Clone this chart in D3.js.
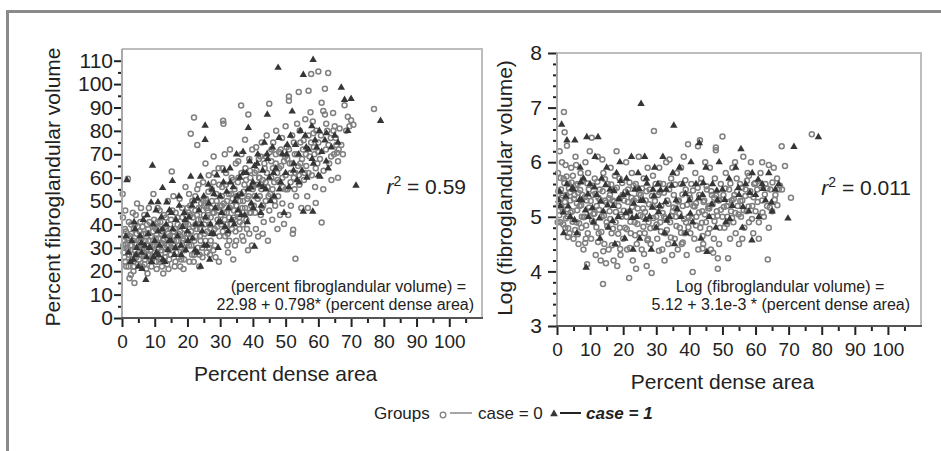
<!DOCTYPE html>
<html>
<head>
<meta charset="utf-8">
<script src="https://cdn.jsdelivr.net/npm/d3@7/dist/d3.min.js"></script>
<style>
body{margin:0;background:#fff;}
svg{display:block;font-family:"Liberation Sans",Arial,Helvetica,sans-serif;}
</style>
</head>
<body>
<svg id="chart" width="941" height="451"></svg>
<script>
// tick values
const xTicks=[0,10,20,30,40,50,60,70,80,90,100];
const xMinor=[5,15,25,35,45,55,65,75,85,95,105];
const leftYTicks=[0,10,20,30,40,50,60,70,80,90,100,110];
const leftYMinor=[5,15,25,35,45,55,65,75,85,95,105];
const rightYTicks=[3,4,5,6,7,8];
const rightYMinor=[3.2,3.4,3.6,3.8,4.2,4.4,4.6,4.8,5.2,5.4,5.6,5.8,6.2,6.4,6.6,6.8,7.2,7.4,7.6,7.8];

// percent dense area vs percent fibroglandular volume, case = 0
const leftCase0=[
[0.5,28],[0.8,33],[1,24],[1.2,37],[1.5,30],[1.8,59.5],[2,22],[2.2,27],[2.5,35],[2.8,40],[3,31],[3.2,25],[3.5,20],[3.8,15],[4,29],[4.2,44],[4.5,36],[4.6,49],[4.8,23],[5,33],[0.3,43],[1.1,31.5],[2.7,18.5],[3.6,38],[4.4,26],[0.2,53],
[5.3,27],[5.6,41],[5.9,31],[6.2,22],[6.5,36],[6.8,44],[7,25],[7.2,33],[7.5,29],[7.8,19],[8,38],[8.2,47],[8.5,27],[8.8,35],[9,22],[9.3,31],[9.6,53],[9.8,42],[6,34],[7.6,40],[8.9,24.5],[5.5,30],[6.7,28],[9.5,37],
[10,28],[10.3,34],[10.6,21],[10.9,41],[11.2,30],[11.5,46],[11.8,25],[12,36],[12.3,32],[12.6,19],[12.9,44],[13.2,28],[13.5,38],[13.8,23],[14,50],[14.3,31],[14.6,35],[14.9,27],[15.2,62.6],[15,42],[11,38.5],[12.8,30],[13.9,34],[10.5,24],
[15.5,29],[15.8,37],[16.1,22],[16.4,45],[16.7,33],[17,40],[17.3,26],[17.6,51],[17.9,35],[18.2,30],[18.5,43],[18.8,21],[19.1,38],[19.4,56],[19.7,32],[20,47],[16,31],[17.2,36],[18,39],[19,25],[19.5,41],[15.7,52],[18.6,34],
[20.3,36],[20.6,24],[20.9,44],[21,78.8],[21.2,31],[21.5,50],[21.8,39],[22,85.7],[22.1,27],[22.4,46],[22.7,35],[23,74],[23,55],[23.3,42],[23.6,22],[23.9,38],[24.2,49],[24.5,30],[24.8,58],[25,44],[21,34],[22.5,40],[24,33],[20.5,53],[23.7,27],
[25.3,36],[25.6,51],[25.9,28],[26.2,46],[26.5,61],[26.8,40],[27.1,33],[27.4,55],[27.7,45],[28,69],[28.3,38],[28.6,26],[28.9,50],[29.2,42],[29.5,64],[29.8,35],[30,48],[26,43],[27,38],[28,58],[29,47],[25.5,66],[27.9,29],[29.6,24],
[30.3,40],[30.6,56],[30.9,84.3],[31,83],[31.2,45],[31.5,35],[31.8,62],[32.1,50],[32.4,28],[32.7,43],[33,72],[33.3,53],[33.6,38],[33.9,59],[34.2,46],[34.5,31],[34.8,66],[35,52],[30.5,48],[32,40],[33.5,48],[34,25],[31.4,70],[32.8,33],[34.6,42],
[35.3,45],[35.6,60],[35.9,38],[36.2,53],[36.4,90.8],[36.5,70],[36.8,47],[37.1,33],[37.4,57],[37.6,76.2],[37.7,64],[38,42],[38.3,51],[38.6,87],[38.9,36],[39.2,60],[39.5,48],[39.8,72],[40,55],[36,41],[37,50],[38.5,29],[39,45],[35.5,67],[39.7,31],
[40.3,48],[40.6,62],[40.9,38],[41.2,57],[41.6,34.8],[41.8,68],[42.1,52],[42.4,44],[42.7,75],[43,59],[43.3,41],[43.6,64],[43.9,50],[44.2,78],[44.5,56],[44.6,33],[45,91.6],[45,46],[41,73],[42,60],[43,36],[44,69],[40.5,52],[42.8,47],
[45.3,53],[45.6,67],[45.9,42],[46.2,75],[46.5,58],[46.8,48],[47.1,80],[47.4,62],[47.7,52],[48,71],[48.3,44],[48.6,65],[48.9,77],[49.2,56],[49.5,40.2],[49.8,69],[50,61],[46,55],[47,66],[48,58],[49,49],[45.7,72],[47.5,38],[50,82],
[50.3,73],[50.6,55],[51,94.7],[51,92.9],[51.3,66],[51.6,48],[52,78],[52.2,36],[52.3,37.7],[52.5,60],[52.8,70],[53,25.3],[53.2,52],[53.5,83],[53.8,65],[54,96.6],[54.2,57],[54.5,75],[54.8,47],[55,68],[51.5,62],[52.7,55],[54.3,80],[50.8,44],
[55.3,72],[55.6,59],[56,85],[56.3,65],[56.6,52],[57,97.2],[57,78],[57.3,69],[57.8,104.3],[58,61],[58.3,84],[58.6,73],[59,56],[59.2,49.2],[59.4,80],[59.7,66],[60,105.4],[60,75],[55.8,62],[57.6,88],[58.8,70],[56.8,47],
[60.5,68],[61,92],[61,40.8],[61.5,88.5],[61.5,55],[62,98],[62,87],[62.3,72],[62.7,80],[63,104.7],[63.3,66],[63.8,77],[64,59],[64.5,87.6],[64.8,70],[65,82],[65.5,74],[65.7,70.6],[66,67],[66.5,81],[67,74],[67.5,70],[68,91],[68.5,80],[69,86],[69.5,82],[70,84.5],[70.7,82.6],[66,60],
[77,89.4],
[0.4,31],[0.7,26],[0.9,38],[1.3,22],[1.6,34],[1.9,29],[2.1,41],[2.4,24],[2.6,31],[2.9,36],[3.1,27],[3.4,33],[3.7,22],[3.9,40],[4.1,32],[4.3,27],[4.7,39],[4.9,30],[5.2,25],[5.4,37],[5.7,33],[6.1,27],[6.3,39],[6.6,31],[6.9,23],[7.3,36],[7.7,31],[7.9,27],[8.1,33],[8.4,41],[8.7,29],[9.1,35],[9.4,26],[9.7,31],[9.9,39],[1.0,46],[3.3,45],[5.8,47],[7.4,21],[2.3,17],
[10.1,31],[10.4,38],[10.7,27],[11.1,34],[11.4,24],[11.7,41],[12.1,29],[12.4,37],[12.7,33],[13.1,26],[13.4,43],[13.7,31],[14.1,36],[14.4,25],[14.7,40],[15.1,30],[15.4,46],[15.8,33],[16.2,38],[16.6,28],[16.9,43],[17.3,31],[17.7,37],[18.1,25],[18.4,47],[18.7,33],[19.1,29],[19.4,40],[19.8,36],[10.9,47],[12.2,22],[14.2,21],[16.3,24],[17.8,22],[19.6,44],[13.3,39],[15.6,35],[11.9,32],
[20.2,40],[20.5,31],[20.8,48],[21.1,37],[21.4,27],[21.7,43],[22.1,33],[22.4,52],[22.8,38],[23.2,30],[23.5,47],[23.8,35],[24.2,42],[24.6,26],[24.9,50],[25.2,40],[25.5,33],[25.8,47],[26.1,37],[26.4,54],[26.7,30],[27.1,43],[27.5,50],[27.8,36],[28.1,45],[28.4,31],[28.8,53],[29.1,39],[29.4,46],[29.7,57],[21.9,24],[23.4,57],[26.9,27],[28.2,62],[25.1,48],[20.4,45],[27.2,47],[22.9,44],
[30.2,44],[30.5,52],[30.8,37],[31.1,49],[31.4,42],[31.7,57],[32.0,45],[32.3,36],[32.6,53],[32.9,47],[33.2,40],[33.5,60],[33.8,51],[34.1,43],[34.4,55],[34.7,37],[35.0,48],[35.4,58],[35.8,43],[36.1,50],[36.5,62],[36.9,40],[37.2,54],[37.6,47],[37.9,59],[38.2,38],[38.7,52],[39.1,63],[39.4,45],[39.8,56],[30.7,64],[32.2,31],[34.9,33],[36.7,35],[38.9,68],
[40.2,57],[40.7,45],[41.1,63],[41.5,51],[41.9,60],[42.3,69],[42.6,55],[43.1,48],[43.5,66],[43.9,58],[44.3,62],[44.8,52],[45.2,71],[45.6,60],[46.1,64],[46.6,50],[47.0,70],[47.5,59],[48.0,64],[48.5,72],[49.0,60],[49.5,67],[50.0,55],[50.5,68],[51.0,72],[51.5,58],[52.0,66],[52.5,75],[53.0,62],[53.5,70],[54.0,61],[54.5,66],
[55.5,76],[56.2,70],[57.0,62],[57.8,75],[58.5,79],[59.2,64],[60.0,71],[60.8,78],[61.6,63],[62.4,83],[63.1,74],[63.9,69],[64.6,80],[65.3,77],[66.2,72]
];
// case = 1
const leftCase1=[
[1.5,59],[2,28],[3,33],[3.5,25],[4,38],[4.5,30],[5,22],[5.5,35],[6,28],[6.5,42],[7,31],[7.3,16.3],[7.5,26],[8,36],[8.5,30],[8.9,49.4],[9,24],[9.3,65.2],[9.5,40],[10,33],[11,49.5],[12.4,55.6],[13.7,49.4],
[10.5,28],[11,37],[11.5,31],[12,43],[12.5,25],[13,35],[13.5,40],[14,29],[14.5,46],[15,33],[15.4,58.6],[15.5,38],[16,27],[16.5,42],[17,35],[17.5,48],[18,31],[18.5,39],[19,45],[19.5,29],[20,37],
[20.5,43],[21,60.5],[21.5,34],[22,50],[22.5,40],[23,28],[23.5,46],[24,60.5],[24.5,37],[25,52],[25.4,82.3],[25.4,76.2],[25.5,43],[26,31],[26.5,49],[27,40],[27.5,55],[28,36],[28.5,47],[29,61],[29.5,41],[30,52],[24,22],[26.8,25],
[30.5,45],[31,58],[31.5,39],[32,54],[32.5,47],[33,64],[33.5,42],[34,56],[34.5,50],[35,70],[35.5,46],[36,60],[36.5,53],[37,71],[37.5,44],[38,62],[38.6,81.3],[38.5,55],[39,67],[39.5,49],[40,58],[40.5,30.5],
[40.5,65],[41,52],[41.5,70],[42,57],[42.5,48],[43,63],[43.5,75],[44,55],[44.4,87],[44.5,68],[45,60],[46,73],[46.5,52],[47,64],[47.7,107],[48,77],[48.5,58],[49,70],[49.5,45],[50,62],
[50.5,74],[51,56],[51.5,78],[52,88.3],[52.5,66],[53,74],[53.5,59],[54,70],[54.5,80],[55.4,104],[55.4,45.5],[55,63],[56,78],[56.5,60],[57,72],[58.3,45.5],[58.4,110.4],[58,82],[58.5,66],[59,76],[60,61],[60.5,60.5],[59.5,73],
[61,71],[62,76],[62.5,79],[63,64],[64,73],[65,78],[67,98.5],[68,93.3],[70,93.7],[71.5,56.6],[79,84.3],[66,75],[69,80],
[1.2,35],[2.6,24],[3.7,41],[4.3,27],[5.9,32],[6.1,21],[7.7,44],[8.3,30],[9.6,26],[10.4,46],[11.2,27],[12.3,38],[13.1,24],[14.4,33],[15.1,45],[16.3,30],[17.4,52],[18.1,27],[19.3,42],[20.1,33],[21.4,48],[22.3,29],[23.1,51],[24.3,40],[25.1,31],[26.4,57],[27.3,36],[28.1,53],[29.4,30],[30.1,41],[31.3,63],[32.4,37],[33.1,58],[34.3,40],[35.2,52],[36.4,44],[37.1,62],[38.3,41],[39.4,56],[40.1,47],[41.3,66],[42.4,45],[43.1,56],[44.3,70],[45.4,50],[46.3,62],[48.1,55],[50.3,70],[52.4,63],[54.1,58],[56.3,73],[58.1,68],[60.3,80],[62.4,67]
];

// percent dense area vs log(fibroglandular volume), case = 0
const rightCase0=[
[0.3,5.8],[0.5,5.2],[0.8,6.2],[1,4.9],[1.2,5.5],[1.5,6.0],[1.8,5.1],[2,5.7],[2.1,6.92],[2.3,6.55],[2.5,4.8],[2.8,5.4],[3,6.3],[3.2,5.0],[3.5,5.6],[3.8,4.7],[4,5.3],[4.3,5.9],[4.6,5.1],[5,4.6],[0.2,4.9],[1.4,5.35],[2.6,5.95],[3.9,5.45],[4.8,5.75],
[5.3,5.4],[5.6,6.1],[5.9,4.9],[6.2,5.6],[6.5,4.5],[6.8,5.2],[7.1,5.8],[7.4,4.8],[7.7,5.4],[8,4.4],[8.3,5.0],[8.6,6.0],[8.9,5.3],[9.1,4.13],[9.3,4.7],[9.6,5.5],[9.9,6.2],[10,5.1],[6,5.25],[7.5,5.0],[8.7,4.6],[5.8,5.95],[9.4,5.8],
[10.3,4.6],[10.5,6.45],[10.8,5.4],[11.1,4.9],[11.4,5.7],[11.7,4.3],[12,5.2],[12.3,6.1],[12.6,4.7],[12.9,5.5],[13.2,4.2],[13.5,5.0],[13.9,3.77],[14,5.8],[14.3,4.5],[14.6,5.3],[15,4.9],[11,5.05],[12.5,5.35],[13.7,6.05],[14.8,4.15],
[15.3,5.6],[15.6,4.4],[15.9,5.1],[16.2,5.9],[16.5,4.7],[16.8,5.3],[17.1,4.2],[17.4,5.5],[17.7,4.9],[18,6.2],[18.3,4.5],[18.6,5.2],[18.9,5.7],[19.2,4.3],[19.5,5.0],[19.8,5.4],[20,4.6],[16,5.4],[17.5,5.75],[19,4.8],[18.2,4.1],
[20.3,5.3],[20.6,4.8],[20.9,6.0],[21.2,4.4],[21.5,5.5],[21.8,3.88],[22,5.1],[22.3,4.7],[22.6,5.8],[22.9,4.2],[23.2,5.3],[23.5,4.9],[23.8,5.6],[24.1,4.5],[24.4,5.15],[24.7,6.1],[25,4.7],[21,5.0],[22.5,5.35],[23.9,4.05],[24.5,5.5],
[25.3,5.4],[25.6,4.4],[25.9,5.0],[26.2,5.7],[26.5,4.7],[26.8,5.3],[27.1,4.1],[27.4,5.9],[27.7,4.9],[28,5.5],[28.3,4.5],[28.6,3.97],[28.9,5.2],[29.3,6.57],[29.5,4.8],[29.8,5.6],[30,5.0],[26,5.15],[27.5,4.6],[29,5.75],
[30.3,4.6],[30.6,5.4],[30.9,5.9],[31.2,4.9],[31.5,5.2],[31.8,4.4],[32.1,5.6],[32.4,5.0],[32.7,4.7],[33,6.0],[33.3,5.3],[33.6,4.5],[33.9,5.5],[34.2,4.9],[34.5,5.7],[34.8,4.3],[35,5.1],[31,5.45],[32.5,4.2],[34,6.05],
[35.3,5.4],[35.6,4.6],[35.9,5.0],[36.2,5.8],[36.5,4.4],[36.8,5.3],[37.1,4.8],[37.4,5.6],[37.7,4.5],[38,5.2],[38.3,6.1],[38.6,4.7],[38.9,5.5],[39.2,4.3],[39.6,6.33],[39.8,5.0],[40,5.4],[36,5.15],[37.5,5.9],[39,4.9],
[40.3,4.7],[40.6,5.6],[41,3.99],[41.2,5.2],[41.5,4.6],[41.8,5.8],[42.1,5.0],[42.6,6.29],[42.7,4.4],[43.2,6.4],[43,5.4],[43.3,4.8],[43.6,5.7],[43.9,5.1],[44.2,4.5],[44.5,5.3],[44.8,6.0],[45,4.9],[42,5.25],[44,4.65],
[45.3,5.5],[45.6,4.7],[45.9,5.2],[46.2,5.9],[46.5,4.4],[46.8,5.4],[47.1,5.0],[47.4,4.6],[47.7,5.7],[48,6.27],[48,6.22],[48.3,5.1],[48.6,4.05],[48.6,4.24],[48.9,5.3],[49.2,4.8],[49.5,5.6],[50,6.47],[50,5.0],[46,5.15],[47.5,5.35],[49,4.5],
[50.3,5.4],[50.6,4.8],[51,5.8],[51.3,5.2],[51.7,4.24],[52,5.5],[52.3,4.6],[52.6,5.1],[53,5.9],[53.3,4.9],[53.6,5.4],[54,4.7],[54.3,5.7],[54.6,5.2],[55,4.5],[51.5,5.0],[53.8,6.0],[52.8,5.3],
[55.3,5.6],[55.6,5.0],[56,5.3],[56.3,6.1],[56.6,4.8],[57,5.5],[57.3,5.1],[57.6,5.8],[58,4.9],[58.3,5.4],[58.6,6.0],[59,5.2],[59.3,4.7],[59.6,5.6],[60,5.1],[56,4.6],[58,5.75],
[60.5,5.5],[61,4.9],[61.5,5.8],[62,5.3],[62.5,5.0],[63,5.6],[63.5,5.2],[63.7,4.22],[64,4.8],[64.5,5.5],[65,5.1],[65.5,5.9],[66,5.4],[66.5,5.7],[67,5.5],[67.9,6.29],[68,5.5],[68.9,5.93],[70.7,5.35],[62,6.0],[64,5.95],[61,4.6],
[77,6.51],
[0.4,5.47],[0.7,5.03],[1.1,5.71],[1.3,5.18],[1.7,5.39],[1.9,4.86],[2.2,5.62],[2.4,5.27],[2.7,4.97],[2.9,5.74],[3.1,5.14],[3.4,4.79],[3.6,5.52],[4.1,5.08],[4.4,5.63],[4.7,4.91],[5.1,5.33],[5.5,4.76],[5.7,5.58],[6.1,5.12],[6.4,5.44],[6.7,4.88],[7.0,5.49],[7.3,5.21],[7.8,5.68],[8.1,4.99],[8.4,5.36],[8.8,4.84],[9.2,5.61],[9.7,5.17],[3.3,4.63],[6.3,4.68],[8.5,4.52],
[10.2,5.29],[10.6,4.93],[10.9,5.57],[11.3,5.06],[11.6,5.42],[11.9,4.81],[12.2,5.64],[12.7,5.13],[13.0,5.31],[13.4,4.72],[13.8,5.47],[14.2,5.02],[14.5,5.69],[14.9,5.26],[15.2,4.83],[15.7,5.34],[16.1,4.96],[16.4,5.59],[16.9,4.78],[17.3,5.28],[17.8,5.09],[18.1,5.53],[18.5,4.69],[18.8,5.32],[19.3,5.04],[19.7,5.62],[12.4,4.54],[16.6,4.48],[19.1,4.41],[14.0,4.37],
[20.2,5.11],[20.7,5.46],[21.1,4.77],[21.4,5.27],[21.9,5.63],[22.2,4.91],[22.7,5.18],[23.1,5.57],[23.6,4.66],[24.0,5.34],[24.3,4.87],[24.8,5.42],[25.2,5.03],[25.7,5.52],[26.1,4.82],[26.6,5.09],[27.0,5.47],[27.3,4.57],[27.8,5.23],[28.2,4.79],[28.7,5.38],[29.1,4.98],[29.6,5.29],[30.1,4.86],[30.5,5.16],[31.0,5.61],[31.4,4.73],[31.9,5.07],[32.3,5.44],[32.8,4.97],[33.2,4.76],[33.7,5.24],[34.1,5.58],[34.6,5.01],[22.0,4.43],[26.3,4.32],[30.8,4.38],[34.4,4.62],
[35.2,5.17],[35.7,5.59],[36.1,4.83],[36.6,5.28],[37.0,5.06],[37.5,4.71],[37.9,5.41],[38.4,4.96],[38.8,5.67],[39.3,5.22],[39.7,4.81],[40.2,5.34],[40.7,4.97],[41.1,5.48],[41.6,5.19],[42.0,4.84],[42.5,5.53],[42.9,5.08],[43.4,5.62],[43.8,4.89],[44.3,5.27],[44.7,5.04],[45.2,5.56],[45.7,5.16],[46.1,4.78],[46.6,5.47],[47.0,5.23],[47.6,4.92],[48.1,5.39],[48.5,5.02],[49.0,5.31],[49.5,5.13],[38.0,4.53],[44.0,4.42],[47.2,4.34],
[50.4,5.18],[50.9,5.52],[51.4,4.87],[51.9,5.27],[52.4,5.61],[52.9,4.98],[53.4,5.33],[53.9,5.07],[54.4,5.46],[54.9,5.04],[55.4,5.29],[55.9,5.53],[56.4,5.12],[56.9,5.38],[57.4,5.66],[57.9,5.19],[58.4,5.47],[58.9,4.96],[59.4,5.36],[59.9,5.62],[60.6,5.27],[61.3,5.58],[62.1,5.08],[62.8,5.41],[63.6,5.52],[64.3,5.17],[65.1,5.63],[65.8,5.31],[66.6,5.21],[67.4,5.57]
];
// case = 1
const rightCase1=[
[1.4,6.69],[0.5,5.3],[1,5.2],[2,4.7],[3,6.4],[3,5.6],[4,5.0],[5.4,6.4],[5,5.5],[6,4.7],[7,5.9],[7.5,5.3],[8.8,4.07],[8,5.7],[9,6.46],[9.5,5.0],[10,5.6],[11,4.9],[11.5,6.1],[12.4,6.46],[12,5.4],[13,4.6],[13.5,5.7],[14,5.1],[15,5.9],[15.5,4.8],[16,5.5],[17,5.2],[17.5,4.5],[18,5.8],[18.5,5.0],[19,6.0],[20,5.4],[20.5,4.6],[21,5.7],[22,5.1],[22.5,6.1],[23,4.4],[23.5,5.5],[24,5.0],[24.5,5.8],
[25.4,7.07],[25,4.6],[26,5.3],[26.5,6.1],[27,5.7],[28,5.0],[28.5,4.4],[29,5.5],[29.5,5.9],[30,4.8],[30.5,5.6],[31,5.2],[32,6.1],[32.5,4.7],[33,5.5],[34,5.0],[35.3,6.67],[35,5.8],[35.5,4.5],[36,5.3],[37,5.9],[37.5,5.0],[38,5.6],[39,4.7],[40,5.3],[40.5,6.0],[41,4.9],[42,5.6],[43,6.35],[43.5,4.6],[44,5.4],[45.3,4.36],[45,5.9],[46,5.0],[47,5.6],[48,4.8],[48.5,5.3],[49,6.0],[50,5.5],
[51,4.9],[52,5.7],[53,5.2],[54,5.9],[55,5.4],[55.6,6.24],[56,4.8],[57,5.6],[58,5.1],[58.9,4.57],[59,5.8],[60,5.4],[61,5.0],[62,5.6],[63,5.3],[64,5.8],[65,5.1],[66,5.5],[69.8,4.97],[71.6,6.28],[79,6.46],[67,5.6],
[0.8,5.46],[1.9,5.08],[2.7,5.37],[3.4,5.19],[4.6,5.52],[5.3,4.94],[6.8,5.31],[7.2,5.63],[8.6,5.12],[9.3,5.41],[10.7,5.16],[11.3,5.54],[12.8,4.97],[13.2,5.28],[14.7,5.58],[15.3,5.21],[16.8,4.92],[17.2,5.47],[18.7,5.33],[19.2,5.66],[20.8,5.07],[21.3,5.43],[22.7,4.98],[23.2,5.24],[24.8,5.51],[25.3,5.29],[26.8,4.95],[27.2,5.61],[28.8,5.17],[29.3,5.38],[30.7,5.09],[31.3,5.49],[32.8,5.27],[33.2,4.93],[34.7,5.57],[36.3,5.14],[38.8,5.42],[40.3,5.06],[42.8,5.34],[44.2,5.62],[46.8,5.23],[48.3,5.48],[50.7,5.31],[52.2,4.96],[54.8,5.53],[56.2,5.18],[58.3,5.44],[60.8,5.68],[62.3,5.51],[64.8,5.26]
];

const svg=d3.select("#chart");
const circleColor="#808080";
const triColor="#363636";

// outer frame
svg.append("rect")
    .attr("x",7.5).attr("y",11.5)
    .attr("width",1000).attr("height",500)
    .attr("fill","none").attr("stroke","#8a8a8a").attr("stroke-width",3);

function drawPanel(p){
    const x=d3.scaleLinear().domain([0,110]).range([p.left,p.right]);
    const y=d3.scaleLinear().domain(p.yDomain).range([p.bottom,p.top]);
    const g=svg.append("g");

    // box (top and right light grey)
    g.append("path")
        .attr("d",`M${p.left},${p.top}H${p.right}V${p.bottom}`)
        .attr("fill","none").attr("stroke","#bdbdbd").attr("stroke-width",2);

    // points
    g.append("g").selectAll("circle")
        .data(p.case0)
        .join("circle")
        .attr("cx",d=>x(d[0]))
        .attr("cy",d=>y(d[1]))
        .attr("r",2.5)
        .attr("fill","none")
        .attr("stroke",circleColor)
        .attr("stroke-width",1.5);

    const tri=d3.symbol().type(d3.symbolTriangle).size(24);
    g.append("g").selectAll("path")
        .data(p.case1)
        .join("path")
        .attr("d",tri)
        .attr("transform",d=>`translate(${x(d[0])},${y(d[1])})`)
        .attr("fill",triColor);

    // left axis
    const yAx=g.append("g").attr("transform",`translate(${p.left},0)`)
        .call(d3.axisLeft(y).tickValues(p.yTicks).tickSize(p.yTick).tickPadding(p.yPad).tickFormat(d3.format("d")));
    const yMin=g.append("g").attr("transform",`translate(${p.left},0)`)
        .call(d3.axisLeft(y).tickValues(p.yMinor).tickSize(4).tickFormat(""));
    [yAx,yMin].forEach(a=>{
        a.select(".domain").remove();
        a.selectAll("line").attr("stroke","#222").attr("stroke-width",2);
    });
    yAx.selectAll("text").attr("font-size",21).attr("fill","#222").attr("font-family",null);
    g.append("line")
        .attr("x1",p.left).attr("x2",p.left)
        .attr("y1",p.top).attr("y2",p.bottom)
        .attr("stroke","#a8a8a8").attr("stroke-width",2);

    // bottom axis
    const xAx=g.append("g").attr("transform",`translate(0,${p.bottom})`)
        .call(d3.axisBottom(x).tickValues(xTicks).tickSize(9).tickPadding(8));
    const xMin=g.append("g").attr("transform",`translate(0,${p.bottom})`)
        .call(d3.axisBottom(x).tickValues(xMinor).tickSize(5).tickFormat(""));
    [xAx,xMin].forEach(a=>{
        a.select(".domain").remove();
        a.selectAll("line").attr("stroke","#222").attr("stroke-width",2);
    });
    xAx.selectAll("text").attr("font-size",19).attr("fill","#222").attr("font-family",null);
    g.append("line")
        .attr("x1",p.left-1).attr("x2",p.right+1)
        .attr("y1",p.bottom).attr("y2",p.bottom)
        .attr("stroke","#555").attr("stroke-width",2);

    // axis titles
    g.append("text")
        .attr("x",(x(0)+x(100))/2).attr("y",p.bottom+63)
        .attr("text-anchor","middle").attr("font-size",21).attr("fill","#222")
        .text("Percent dense area");
    g.append("text")
        .attr("transform",`translate(${p.yTitleX},${p.yTitleY}) rotate(-90)`)
        .attr("text-anchor","middle").attr("font-size",21).attr("fill","#222")
        .text(p.yTitle);

    // r squared
    const r2=g.append("text")
        .attr("x",p.r2x).attr("y",p.r2y)
        .attr("text-anchor","end").attr("font-size",21).attr("fill","#222");
    r2.append("tspan").attr("font-style","italic").text("r");
    r2.append("tspan").attr("font-size",14).attr("dy",-8).text("2");
    r2.append("tspan").attr("dy",8).text(" = "+p.r2);

    // regression equation
    p.eq.forEach(e=>{
        g.append("text")
            .attr("x",e.x).attr("y",e.y)
            .attr("text-anchor",e.anchor)
            .attr("font-size",16).attr("fill","#222")
            .text(e.t);
    });
}

drawPanel({
    left:122,right:482,top:49,bottom:318,
    yDomain:[0,115],yTicks:leftYTicks,yMinor:leftYMinor,yTick:8,yPad:1,
    case0:leftCase0,case1:leftCase1,
    yTitle:"Percent fibroglandular volume",yTitleX:60,yTitleY:187,
    r2:"0.59",r2x:466,r2y:194,
    eq:[
        {t:"(percent fibroglandular volume) =",x:466,y:292,anchor:"end"},
        {t:"22.98 + 0.798* (percent dense area)",x:474,y:310,anchor:"end"}
    ]
});

drawPanel({
    left:557,right:921,top:53,bottom:326,
    yDomain:[3,8],yTicks:rightYTicks,yMinor:rightYMinor,yTick:9,yPad:6,
    case0:rightCase0,case1:rightCase1,
    yTitle:"Log (fibroglandular volume)",yTitleX:512,yTitleY:188,
    r2:"0.011",r2x:911,r2y:195,
    eq:[
        {t:"Log (fibroglandular volume) =",x:780,y:292,anchor:"middle"},
        {t:"5.12 + 3.1e-3 * (percent dense area)",x:910,y:310,anchor:"end"}
    ]
});

// legend
const leg=svg.append("g").attr("font-size",17).attr("fill","#222");
const ly=419;
leg.append("text").attr("x",374).attr("y",ly).text("Groups");
leg.append("circle").attr("cx",443).attr("cy",ly-4).attr("r",2.8)
    .attr("fill","none").attr("stroke",circleColor).attr("stroke-width",1.3);
leg.append("line").attr("x1",450).attr("x2",472).attr("y1",ly-6).attr("y2",ly-6)
    .attr("stroke","#888").attr("stroke-width",1.5);
leg.append("text").attr("x",478).attr("y",ly).text("case = 0");
leg.append("path").attr("d",d3.symbol().type(d3.symbolTriangle).size(26))
    .attr("transform",`translate(554,${ly-5})`).attr("fill",triColor);
leg.append("line").attr("x1",560).attr("x2",581).attr("y1",ly-6).attr("y2",ly-6)
    .attr("stroke","#222").attr("stroke-width",2);
leg.append("text").attr("x",586).attr("y",ly)
    .attr("font-weight","bold").attr("font-style","italic").text("case = 1");
</script>
</body>
</html>
